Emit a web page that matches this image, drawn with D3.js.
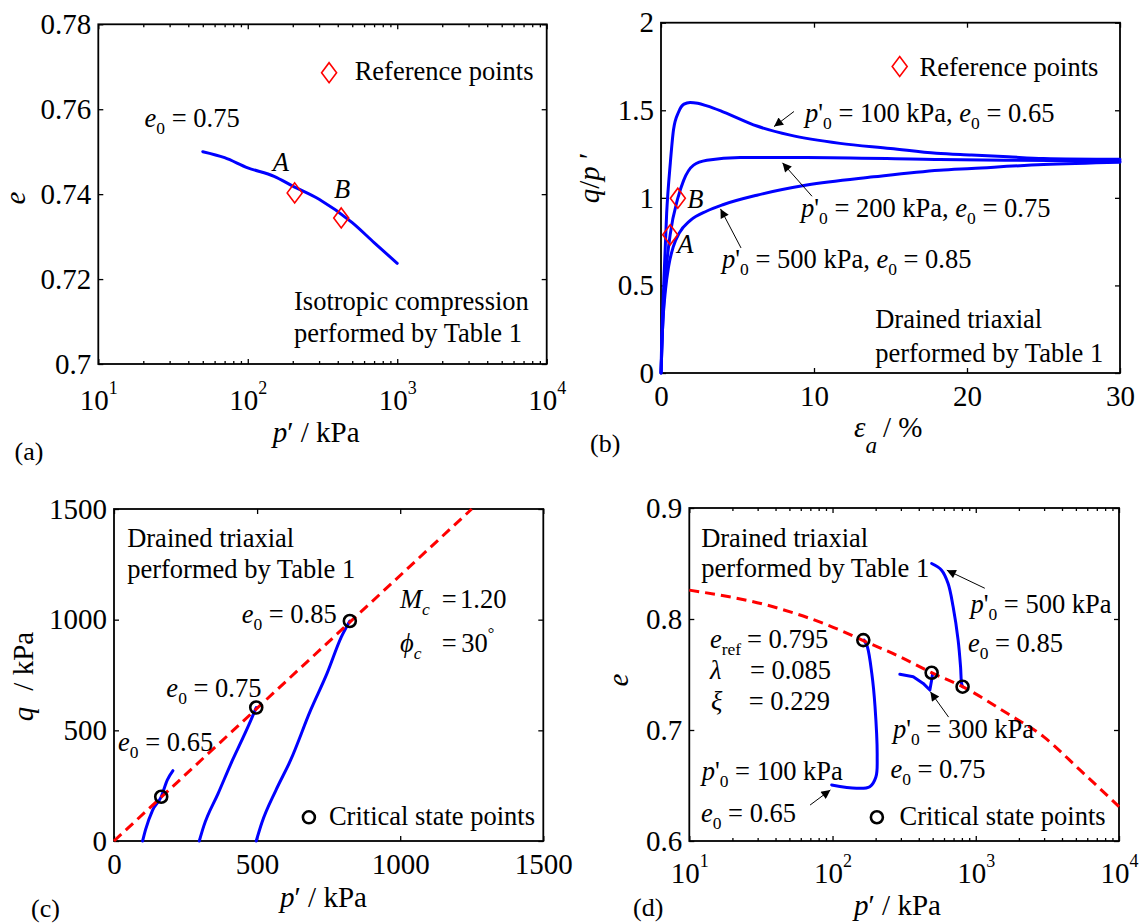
<!DOCTYPE html>
<html><head><meta charset="utf-8">
<script src="https://cdn.jsdelivr.net/npm/d3@7"></script>
<style>
body{margin:0;background:#fff}
svg text{font-family:"Liberation Serif","Times New Roman",serif;fill:#000}
</style></head><body>
<svg id="chart" width="1141" height="924"></svg>
<script>
// ================= DATA =================
// (a) isotropic compression, e0 = 0.75
const isoP = [50, 70, 100, 150, 200, 300, 500, 700, 1000];
const isoE = [0.7500, 0.7486, 0.7462, 0.7442, 0.7419, 0.7388, 0.7333, 0.7286, 0.7237];
const refNames = ["A", "B"];
const refIsoP = [206, 422];
const refIsoE = [0.7403, 0.7344];

// (b) drained triaxial, q/p' vs axial strain (%)
const eps100 = [0, 0.05, 0.15, 0.37, 0.61, 0.82, 1.15, 1.5, 1.9, 2.4, 3.0, 4.09, 6.27, 8.45, 11.7, 15, 18, 20.3, 22.7, 25, 30];
const qp100  = [0, 0.2, 0.436, 0.913, 1.2, 1.39, 1.49, 1.535, 1.545, 1.54, 1.525, 1.49, 1.41, 1.358, 1.311, 1.282, 1.254, 1.244, 1.234, 1.225, 1.22];
const eps200 = [0, 0.1, 0.3, 0.6, 1.1, 1.48, 2.13, 3.0, 5.18, 9.5, 18.2, 22.7, 30];
const qp200  = [0, 0.25, 0.55, 0.79, 0.998, 1.10, 1.187, 1.215, 1.231, 1.231, 1.219, 1.215, 1.21];
const eps500 = [0, 0.1, 0.3, 0.5, 0.8, 1.2, 1.9, 3.0, 4.09, 6.27, 9.53, 13.9, 18.2, 20.3, 25, 30];
const qp500  = [0, 0.25, 0.48, 0.61, 0.72, 0.8, 0.87, 0.925, 0.962, 1.015, 1.073, 1.12, 1.158, 1.168, 1.19, 1.203];
const refEps = [0.6, 1.1];
const refQp  = [0.789, 0.998];

// (c) stress paths q vs p'
const c100P = [100, 110, 135, 165, 186, 206];
const c100Q = [0, 50, 140, 200, 275, 318];
const c300P = [298, 313, 364, 414, 452, 478, 497];
const c300Q = [0, 65, 215, 365, 470, 545, 603];
const c500P = [497, 516, 566, 617, 687, 744, 794, 824];
const c500Q = [0, 80, 230, 365, 591, 756, 921, 994];
const cslCP = [0, 1250];
const cslCQ = [0, 1500];
const csCP = [165, 497, 824];
const csCQ = [200, 603, 994];

// (d) e vs p' (log)
const cslDP = [10, 38.5, 112.7, 164, 295, 492, 809, 1655, 2972, 5336, 10000];
const cslDE = [0.826, 0.811, 0.790, 0.7805, 0.766, 0.7516, 0.739, 0.715, 0.694, 0.664, 0.631];
const d100P = [98.6, 147, 182, 201, 205, 198, 188, 175, 166];
const d100E = [0.6505, 0.6475, 0.6489, 0.6579, 0.6759, 0.721, 0.751, 0.775, 0.781];
const d300P = [295, 366, 429.5, 478, 492, 500];
const d300E = [0.7502, 0.748, 0.742, 0.736, 0.745, 0.751];
const d500P = [492, 577, 641, 695, 753, 783, 796, 809];
const d500E = [0.850, 0.844, 0.832, 0.811, 0.781, 0.757, 0.742, 0.739];
const csDP = [164, 492, 809];
const csDE = [0.781, 0.7516, 0.739];

// ticks
const aXTicks = [10, 100, 1000, 10000];
const aYTicks = [0.70, 0.72, 0.74, 0.76, 0.78];
const bXTicks = [0, 10, 20, 30];
const bYTicks = [0, 0.5, 1, 1.5, 2];
const cTicks  = [0, 500, 1000, 1500];
const dXTicks = [10, 100, 1000, 10000];
const dYTicks = [0.6, 0.7, 0.8, 0.9];

// ================= DRAWING =================
const svg = d3.select("#chart");
const FT = 29, FA = 26.5;
const BLUE = "#0000ff", RED = "#ff0000";

svg.append("defs").append("marker")
  .attr("id", "arr").attr("viewBox", "0 0 10 10").attr("refX", 10).attr("refY", 5)
  .attr("markerWidth", 12).attr("markerHeight", 9).attr("markerUnits", "userSpaceOnUse")
  .attr("orient", "auto")
  .append("path").attr("d", "M0,0 L10,5 L0,10 Z").attr("fill", "#000");

function rich(g, x, y, parts, fs, opt = {}) {
  const t = g.append("text").attr("x", x).attr("y", y).attr("font-size", fs)
    .attr("text-anchor", opt.anchor || "start");
  if (opt.transform) t.attr("transform", opt.transform);
  let shift = 0;
  for (const p of parts) {
    const [str, st = "", dx, ax] = p;
    const sp = t.append("tspan").text(str);
    let target = 0, size = null;
    if (st.includes("b")) { target = fs * 0.26; size = fs * 0.66; }
    if (st.includes("p")) { target = -fs * 0.5; size = fs * 0.62; }
    if (st.includes("B")) { target = fs * 0.55; size = fs * 0.8; }
    if (target - shift) sp.attr("dy", target - shift);
    shift = target;
    if (size) sp.attr("font-size", size);
    if (st.includes("i")) sp.attr("font-style", "italic");
    if (dx) sp.attr("dx", dx);
    if (ax != null) sp.attr("x", ax);
  }
  return t;
}

function panel(o) {
  const g = svg.append("g");
  const x = o.x, y = o.y;
  const [x0, x1] = x.range(), [y0, y1] = y.range();
  const gb = g.append("g").attr("transform", `translate(0,${y0})`)
    .call(d3.axisBottom(x).tickValues(o.xt).tickSizeInner(-5).tickSizeOuter(0).tickPadding(o.xpad).tickFormat(o.xf));
  const gt = g.append("g").attr("transform", `translate(0,${y1})`)
    .call(d3.axisTop(x).tickValues(o.xt).tickSizeInner(-5).tickSizeOuter(0).tickFormat(""));
  const gl = g.append("g").attr("transform", `translate(${x0},0)`)
    .call(d3.axisLeft(y).tickValues(o.yt).tickSizeInner(-5).tickSizeOuter(0).tickPadding(7).tickFormat(d3.format("~g")));
  const gr = g.append("g").attr("transform", `translate(${x1},0)`)
    .call(d3.axisRight(y).tickValues(o.yt).tickSizeInner(-5).tickSizeOuter(0).tickFormat(""));
  const axes = [gb, gt, gl, gr];
  if (o.log) {
    const minor = [];
    [10, 100, 1000].forEach(dec => { for (let k = 2; k <= 9; k++) minor.push(k * dec); });
    axes.push(g.append("g").attr("transform", `translate(0,${y0})`)
      .call(d3.axisBottom(x).tickValues(minor).tickSizeInner(-3).tickSizeOuter(0).tickFormat("")));
    axes.push(g.append("g").attr("transform", `translate(0,${y1})`)
      .call(d3.axisTop(x).tickValues(minor).tickSizeInner(-3).tickSizeOuter(0).tickFormat("")));
    gb.selectAll(".tick text").each(function (d) {
      const t = d3.select(this);
      t.append("tspan").text("10");
      t.append("tspan").attr("dy", -16).attr("font-size", 18).text(Math.round(Math.log10(d)));
    });
  }
  axes.forEach(a => {
    a.select(".domain").remove();
    a.attr("font-family", null).attr("font-size", null);
    a.selectAll("line").attr("stroke-width", 1.3);
  });
  gb.selectAll("text").attr("font-size", FT);
  gl.selectAll("text").attr("font-size", FT);
  g.append("rect").attr("x", x0).attr("y", y1).attr("width", x1 - x0).attr("height", y0 - y1)
    .attr("fill", "none").attr("stroke", "#000").attr("stroke-width", 1.8);
  return g;
}

function path(g, P, xs, ys, stroke, opts = {}) {
  const pts = xs.map((v, i) => [v, ys[i]]);
  const ln = d3.line().x(d => P.x(d[0])).y(d => P.y(d[1])).curve(opts.curve || d3.curveLinear);
  const p = g.append("path").attr("d", ln(pts)).attr("fill", "none").attr("stroke", stroke)
    .attr("stroke-width", opts.w || 3).attr("stroke-linejoin", "round").attr("stroke-linecap", "round");
  if (opts.dash) p.attr("stroke-dasharray", opts.dash).attr("stroke-linecap", "butt");
  return p;
}
function diamond(g, px, py) {
  g.append("path").attr("d", `M${px},${py - 10} L${px + 7.5},${py} L${px},${py + 10} L${px - 7.5},${py} Z`)
    .attr("fill", "none").attr("stroke", RED).attr("stroke-width", 1.6);
}
function circ(g, px, py) {
  g.append("circle").attr("cx", px).attr("cy", py).attr("r", 6)
    .attr("fill", "none").attr("stroke", "#000").attr("stroke-width", 2.6);
}
function arrow(g, P, tail, head) {
  g.append("line").attr("x1", P.x(tail[0])).attr("y1", P.y(tail[1]))
    .attr("x2", P.x(head[0])).attr("y2", P.y(head[1]))
    .attr("stroke", "#000").attr("stroke-width", 1).attr("marker-end", "url(#arr)");
}
const T = (g, P, xv, yv, parts, fs, opt) => rich(g, P.x(xv), P.y(yv), parts, fs || FA, opt);

// ---------- (a) ----------
const PA = { x: d3.scaleLog().domain([10, 1e4]).range([98.3, 546.7]), y: d3.scaleLinear().domain([0.7, 0.78]).range([364, 24.3]) };
const ga = panel({ x: PA.x, y: PA.y, xt: aXTicks, yt: aYTicks, xpad: 25, xf: () => "", log: true });
path(ga, PA, isoP, isoE, BLUE, { curve: d3.curveMonotoneX });
refIsoP.forEach((p, i) => diamond(ga, PA.x(p), PA.y(refIsoE[i])));
T(ga, PA, 20.4, 0.7557, [["e", "i"], ["0", "b"], [" = 0.75"]]);
T(ga, PA, 147, 0.7455, [[refNames[0], "i"]]);
T(ga, PA, 377, 0.739, [[refNames[1], "i"]]);
diamond(ga, PA.x(350), PA.y(0.7686));
T(ga, PA, 519, 0.7668, [["Reference points"]]);
T(ga, PA, 204, 0.7127, [["Isotropic compression"]]);
T(ga, PA, 204, 0.7052, [["performed by Table 1"]]);
rich(svg, 0, 0, [["e", "i"]], FT, { anchor: "middle", transform: "translate(25,198) rotate(-90)" });
rich(svg, 272.7, 441.7, [["p", "i"], ["′ / kPa"]], FT);
rich(svg, 14.5, 460, [["(a)"]], 26);

// ---------- (b) ----------
const PB = { x: d3.scaleLinear().domain([0, 30]).range([661, 1120]), y: d3.scaleLinear().domain([0, 2]).range([373, 22.7]) };
const gbp = panel({ x: PB.x, y: PB.y, xt: bXTicks, yt: bYTicks, xpad: 12, xf: d3.format("~g") });
path(gbp, PB, eps100, qp100, BLUE, { curve: d3.curveMonotoneX });
path(gbp, PB, eps200, qp200, BLUE, { curve: d3.curveMonotoneX });
path(gbp, PB, eps500, qp500, BLUE, { curve: d3.curveMonotoneX });
refEps.forEach((e, i) => diamond(gbp, PB.x(e), PB.y(refQp[i])));
T(gbp, PB, 1.07, 0.683, [[refNames[0], "i"]]);
T(gbp, PB, 1.72, 0.941, [[refNames[1], "i"]]);
diamond(gbp, PB.x(15.6), PB.y(1.75));
T(gbp, PB, 16.9, 1.693, [["Reference points"]]);
T(gbp, PB, 9.41, 1.435, [["p", "i"], ["'"], ["0", "b"], [" = 100 kPa, "], ["e", "i"], ["0", "b"], [" = 0.65"]]);
T(gbp, PB, 9.15, 0.891, [["p", "i"], ["'"], ["0", "b"], [" = 200 kPa, "], ["e", "i"], ["0", "b"], [" = 0.75"]]);
T(gbp, PB, 3.99, 0.598, [["p", "i"], ["'"], ["0", "b"], [" = 500 kPa, "], ["e", "i"], ["0", "b"], [" = 0.85"]]);
arrow(gbp, PB, [8.69, 1.493], [7.39, 1.407]);
arrow(gbp, PB, [9.87, 1.009], [7.94, 1.2]);
arrow(gbp, PB, [5.23, 0.714], [3.89, 0.937]);
T(gbp, PB, 14.0, 0.255, [["Drained triaxial"]]);
T(gbp, PB, 14.0, 0.065, [["performed by Table 1"]]);
rich(svg, 0, 0, [["q", "i"], ["/"], ["p", "i"], [" ′"]], FT, { anchor: "middle", transform: "translate(599,178) rotate(-90)" });
rich(svg, 854, 436.7, [["ε", "i"], ["a", "iB"], ["/ %", "", 6]], FT);
rich(svg, 590, 452, [["(b)"]], 26);

// ---------- (c) ----------
const PC = { x: d3.scaleLinear().domain([0, 1500]).range([114, 543.3]), y: d3.scaleLinear().domain([0, 1500]).range([841, 509]) };
const gc = panel({ x: PC.x, y: PC.y, xt: cTicks, yt: cTicks, xpad: 12, xf: d3.format("~g") });
path(gc, PC, c100P, c100Q, BLUE, { curve: d3.curveMonotoneX });
path(gc, PC, c300P, c300Q, BLUE, { curve: d3.curveMonotoneX });
path(gc, PC, c500P, c500Q, BLUE, { curve: d3.curveMonotoneX });
path(gc, PC, cslCP, cslCQ, RED, { dash: "10,6", w: 3 });
csCP.forEach((p, i) => circ(gc, PC.x(p), PC.y(csCQ[i])));
T(gc, PC, 14.3, 408, [["e", "i"], ["0", "b"], [" = 0.65"]]);
T(gc, PC, 183, 652, [["e", "i"], ["0", "b"], [" = 0.75"]]);
T(gc, PC, 446, 983, [["e", "i"], ["0", "b"], [" = 0.85"]]);
T(gc, PC, 999, 1051, [["M", "i"], ["c", "ib"], ["=", "", null, PC.x(1145)], ["1.20", "", null, PC.x(1209)]]);
T(gc, PC, 999, 855, [["ϕ", "i"], ["c", "ib"], ["=", "", null, PC.x(1145)], ["30", "", null, PC.x(1213)], ["°", "p"]]);
T(gc, PC, 46, 1327, [["Drained triaxial"]]);
T(gc, PC, 46, 1186, [["performed by Table 1"]]);
circ(gc, PC.x(681), PC.y(107));
T(gc, PC, 751, 72, [["Critical state points"]]);
rich(svg, 0, 0, [["q", "i"], ["/ kPa", "", 16]], FT, { anchor: "middle", transform: "translate(33,676.5) rotate(-90)" });
rich(svg, 280, 906.7, [["p", "i"], ["′ / kPa"]], FT);
rich(svg, 31, 917, [["(c)"]], 26);

// ---------- (d) ----------
const PD = { x: d3.scaleLog().domain([10, 1e4]).range([689.3, 1119]), y: d3.scaleLinear().domain([0.6, 0.9]).range([841, 508]) };
const gd = panel({ x: PD.x, y: PD.y, xt: dXTicks, yt: dYTicks, xpad: 21, xf: () => "", log: true });
path(gd, PD, d100P, d100E, BLUE, { curve: d3.curveCatmullRom });
path(gd, PD, d300P, d300E, BLUE);
path(gd, PD, d500P, d500E, BLUE, { curve: d3.curveCatmullRom });
path(gd, PD, cslDP, cslDE, RED, { dash: "10,6", w: 3, curve: d3.curveMonotoneX });
csDP.forEach((p, i) => circ(gd, PD.x(p), PD.y(csDE[i])));
T(gd, PD, 12.1, 0.865, [["Drained triaxial"]]);
T(gd, PD, 12.1, 0.838, [["performed by Table 1"]]);
T(gd, PD, 13.95, 0.7736, [["e", "i"], ["ref", "b"], ["= 0.795", "", null, PD.x(25.3)]]);
T(gd, PD, 13.95, 0.7457, [["λ", "i"], ["= 0.085", "", null, PD.x(26.5)]]);
T(gd, PD, 14.2, 0.718, [["ξ", "i"], ["= 0.229", "", null, PD.x(26)]]);
T(gd, PD, 918, 0.8051, [["p", "i"], ["'"], ["0", "b"], [" = 500 kPa"]]);
T(gd, PD, 881, 0.7705, [["e", "i"], ["0", "b"], [" = 0.85"]]);
T(gd, PD, 264, 0.6925, [["p", "i"], ["'"], ["0", "b"], [" = 300 kPa"]]);
T(gd, PD, 253.5, 0.6565, [["e", "i"], ["0", "b"], [" = 0.75"]]);
T(gd, PD, 12.2, 0.655, [["p", "i"], ["'"], ["0", "b"], [" = 100 kPa"]]);
T(gd, PD, 12.06, 0.6174, [["e", "i"], ["0", "b"], [" = 0.65"]]);
arrow(gd, PD, [1156, 0.8277], [628, 0.844]);
arrow(gd, PD, [646, 0.7116], [482, 0.7345]);
arrow(gd, PD, [69.7, 0.6324], [96.6, 0.646]);
circ(gd, PD.x(204), PD.y(0.6214));
T(gd, PD, 293.6, 0.6144, [["Critical state points"]]);
rich(svg, 0, 0, [["e", "i"]], FT, { anchor: "middle", transform: "translate(628,680) rotate(-90)" });
rich(svg, 854, 915, [["p", "i"], ["′ / kPa"]], FT);
rich(svg, 633, 916, [["(d)"]], 26);
</script>
</body></html>
